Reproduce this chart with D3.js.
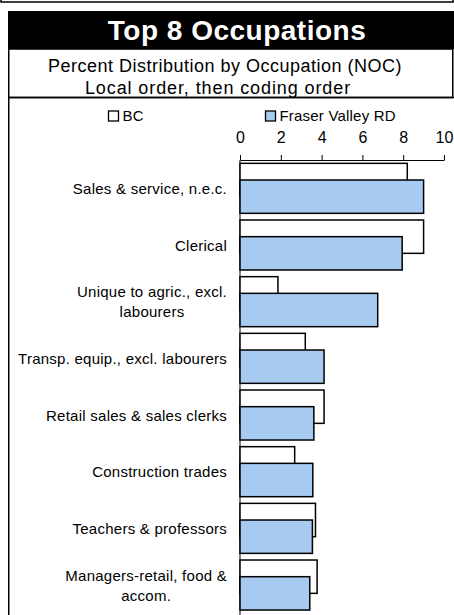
<!DOCTYPE html>
<html>
<head>
<meta charset="utf-8">
<script src="https://cdn.jsdelivr.net/npm/d3@7"></script>
<style>
  body { margin: 0; background: #fff; }
  svg { display: block; font-family: "Liberation Sans", Arial, sans-serif; }
</style>
</head>
<body>
<div id="chart"></div>
<script>
// occupation labels, already broken into lines the way the original wraps them
var occupations = [
  ["Sales & service, n.e.c."],
  ["Clerical"],
  ["Unique to agric., excl.", "labourers"],
  ["Transp. equip., excl. labourers"],
  ["Retail sales & sales clerks"],
  ["Construction trades"],
  ["Teachers & professors"],
  ["Managers-retail, food &", "accom."]
];
var seriesNames = ["BC", "Fraser Valley RD"];
var bcValues = [8.2, 9.0, 1.86, 3.2, 4.12, 2.68, 3.7, 3.78];
var fraserValues = [9.0, 7.95, 6.75, 4.12, 3.62, 3.57, 3.55, 3.42];
var xTicks = [0, 2, 4, 6, 8, 10];

var titleText = "Top 8 Occupations";
var subtitleLines = ["Percent Distribution by Occupation (NOC)", "Local order, then coding order"];

(function () {

  var width = 454,
      height = 615;

  var svg = d3.select("#chart")
    .append("svg")
    .attr("width", width)
    .attr("height", height);

  //frames
  //bottom of the panel above
  svg.append("rect")
    .attr("x", 1).attr("y", -10)
    .attr("width", 452).attr("height", 12)
    .attr("fill", "none")
    .attr("stroke", "#000")
    .attr("stroke-width", 1.5);

  //title bar
  svg.append("rect")
    .attr("x", 8).attr("y", 11)
    .attr("width", 460).attr("height", 38)
    .attr("fill", "#000");

  svg.append("text")
    .attr("x", 237).attr("y", 39.5)
    .attr("text-anchor", "middle")
    .attr("fill", "#fff")
    .attr("font-size", 28)
    .attr("font-weight", "bold")
    .attr("letter-spacing", 0.5)
    .text(titleText);

  //subtitle box
  svg.append("rect")
    .attr("x", 8.75).attr("y", 49)
    .attr("width", 444).attr("height", 48.5)
    .attr("fill", "none")
    .attr("stroke", "#000")
    .attr("stroke-width", 1.5);

  svg.selectAll(".subtitle")
    .data(subtitleLines)
    .enter().append("text")
    .attr("class", "subtitle")
    .attr("x", function (d, i) { return i == 0 ? 225 : 218 })
    .attr("y", function (d, i) { return 71.5 + i * 22 })
    .attr("text-anchor", "middle")
    .attr("font-size", 18)
    .attr("letter-spacing", function (d, i) { return i == 0 ? 0.5 : 0.9 })
    .text(function (d) { return d });

  //chart box
  svg.append("rect")
    .attr("x", 8.75).attr("y", 97.5)
    .attr("width", 460).attr("height", 540)
    .attr("fill", "none")
    .attr("stroke", "#000")
    .attr("stroke-width", 1.5);

  //scales
  var xPositionScale = d3.scaleLinear()
    .domain([0, 10])
    .range([240, 444]);

  var yPositionScale = d3.scaleBand()
    .domain(d3.range(occupations.length))
    .range([160, 160 + 8 * 56.67])
    .paddingInner(0.1176)
    .paddingOuter(0.0588);

  var colorScale = d3.scaleOrdinal()
    .domain(seriesNames)
    .range(["#ffffff", "#a6caf0"]);

  //bars overlap by half their thickness
  var barHeight = yPositionScale.bandwidth() / 1.5;

  //legend
  var legend = svg.selectAll(".legend")
    .data(seriesNames)
    .enter().append("g")
    .attr("class", "legend")
    .attr("transform", function (d, i) {
      return "translate(" + (i == 0 ? 108.5 : 265.5) + ",111)";
    });

  legend.append("rect")
    .attr("width", 10)
    .attr("height", 10)
    .attr("fill", function (d) { return colorScale(d) })
    .attr("stroke", "#000")
    .attr("stroke-width", 1.3);

  legend.append("text")
    .attr("x", 14)
    .attr("y", 10)
    .attr("font-size", 15)
    .attr("letter-spacing", 0.2)
    .text(function (d) { return d });

  //x axis on top
  var xAxis = d3.axisTop(xPositionScale)
    .tickValues(xTicks)
    .tickSizeInner(5)
    .tickSizeOuter(0)
    .tickPadding(12);

  svg.append("g")
    .attr("class", "axis x-axis")
    .attr("transform", "translate(0,160)")
    .call(xAxis)
    .call(function (g) {
      g.selectAll("text")
        .attr("font-size", 16)
        .attr("font-family", "Liberation Sans, Arial, sans-serif")
        .attr("fill", "#000");
      g.selectAll("line, path")
        .attr("stroke", "#000")
        .attr("stroke-width", 1);
    });

  //category axis line
  svg.append("line")
    .attr("x1", xPositionScale(0)).attr("x2", xPositionScale(0))
    .attr("y1", 160).attr("y2", 620)
    .attr("stroke", "#000")
    .attr("stroke-width", 1);

  //BC bars
  svg.selectAll(".bc")
    .data(bcValues)
    .enter().append("rect")
    .attr("class", "bc")
    .attr("x", xPositionScale(0))
    .attr("y", function (d, i) { return yPositionScale(i) })
    .attr("width", function (d) { return xPositionScale(d) - xPositionScale(0) })
    .attr("height", barHeight)
    .attr("fill", colorScale("BC"))
    .attr("stroke", "#000")
    .attr("stroke-width", 1.5);

  //Fraser Valley bars
  svg.selectAll(".fraser")
    .data(fraserValues)
    .enter().append("rect")
    .attr("class", "fraser")
    .attr("x", xPositionScale(0))
    .attr("y", function (d, i) { return yPositionScale(i) + barHeight / 2 })
    .attr("width", function (d) { return xPositionScale(d) - xPositionScale(0) })
    .attr("height", barHeight)
    .attr("fill", colorScale("Fraser Valley RD"))
    .attr("stroke", "#000")
    .attr("stroke-width", 1.5);

  //category labels
  var labels = svg.selectAll(".label")
    .data(occupations)
    .enter().append("text")
    .attr("class", "label")
    .attr("text-anchor", "end")
    .attr("font-size", 15)
    .attr("letter-spacing", 0.25)
    .attr("transform", function (d, i) {
      var mid = yPositionScale(i) + yPositionScale.bandwidth() / 2;
      return "translate(227," + (mid + 5.5 - (d.length - 1) * 10) + ")";
    });

  labels.selectAll("tspan")
    .data(function (d) { return d })
    .enter().append("tspan")
    .attr("x", 0)
    .attr("dy", function (d, i) { return i == 0 ? 0 : 20 })
    .text(function (d) { return d });

  //wrapped second lines sit centred under the first one
  labels.each(function (d) {
    if (d.length < 2) return;
    var spans = d3.select(this).selectAll("tspan").nodes();
    var w0 = spans[0].getComputedTextLength();
    d3.select(spans[1])
      .attr("x", -w0 / 2)
      .attr("text-anchor", "middle");
  });

})()
</script>
</body>
</html>
